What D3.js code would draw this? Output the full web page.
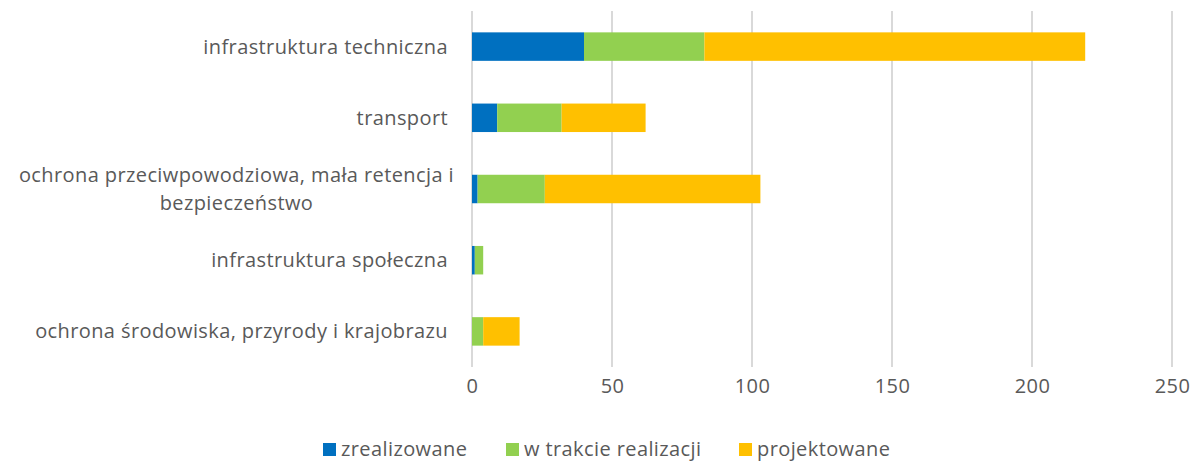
<!DOCTYPE html>
<html>
<head>
<meta charset="utf-8">
<script src="https://cdn.jsdelivr.net/npm/d3@7"></script>
<style>
  body { margin: 0; background: #fff; }
  text { font-family: "Open Sans", sans-serif; fill: #595959; letter-spacing: 0.4px; }
</style>
</head>
<body>
<script>
// data
var categories = [
	"infrastruktura techniczna",
	"transport",
	"ochrona przeciwpowodziowa, mała retencja i|bezpieczeństwo",
	"infrastruktura społeczna",
	"ochrona środowiska, przyrody i krajobrazu"
];
var zrealizowane = [40, 9, 2, 1, 0];
var wTrakcie = [43, 23, 24, 3, 4];
var projektowane = [136, 30, 77, 0, 13];
var seriesNames = ["zrealizowane", "w trakcie realizacji", "projektowane"];
var seriesColors = ["#0070C0", "#92D050", "#FFC000"];
var xTicks = [0, 50, 100, 150, 200, 250];

var width = 1199, height = 461;

var svg = d3.select("body")
	.append("svg")
		.attr("width", width)
		.attr("height", height);

var x = d3.scaleLinear().domain([0, 250]).range([472, 1172]);
var y = d3.scaleBand().domain(categories).range([11, 367]).paddingInner(0.6).paddingOuter(0.3);

// gridlines
svg.append("g")
	.selectAll("line")
	.data(xTicks)
	.enter()
	.append("line")
		.attr("x1", function (d) { return x(d); })
		.attr("x2", function (d) { return x(d); })
		.attr("y1", 11)
		.attr("y2", 367)
		.style("stroke", "#d9d9d9")
		.style("stroke-width", 2);

// stack the series
var rows = categories.map(function (c, i) {
	return { cat: c, a: zrealizowane[i], b: wTrakcie[i], c: projektowane[i] };
});
var stacked = d3.stack().keys(["a", "b", "c"])(rows);

svg.append("g")
	.selectAll("g")
	.data(stacked)
	.enter()
	.append("g")
		.style("fill", function (d, i) { return seriesColors[i]; })
	.selectAll("rect")
	.data(function (d) { return d; })
	.enter()
	.append("rect")
		.attr("x", function (d) { return x(d[0]); })
		.attr("width", function (d) { return x(d[1]) - x(d[0]); })
		.attr("y", function (d) { return y(d.data.cat); })
		.attr("height", y.bandwidth());

// x axis labels
var xAxis = svg.append("g")
	.attr("transform", "translate(0,367)")
	.call(d3.axisBottom(x).tickValues(xTicks).tickSize(0).tickPadding(12));
xAxis.select(".domain").remove();
xAxis.selectAll("text")
	.style("font-size", "20px")
	.style("font-family", "'Open Sans', sans-serif")
	.style("fill", "#595959");

// category labels (wrapped ones centered like excel)
var labels = svg.append("g")
	.selectAll("text")
	.data(categories)
	.enter()
	.append("text")
		.style("font-size", "20px")
		.attr("y", function (d) { return y(d) + y.bandwidth() / 2; });

labels.each(function (d) {
	var lines = d.split("|");
	var t = d3.select(this);
	if (lines.length == 1) {
		t.attr("x", 448).attr("text-anchor", "end").attr("dy", "0.35em").text(d);
		return;
	}
	lines.forEach(function (l, i) {
		t.append("tspan")
			.attr("dy", i == 0 ? (0.35 - 0.7) + "em" : "1.4em")
			.text(l);
	});
	var w = d3.max(t.selectAll("tspan").nodes(), function (n) { return n.getComputedTextLength(); });
	t.attr("text-anchor", "middle");
	t.selectAll("tspan").attr("x", 454 - w / 2);
});

// legend
var legendX = [323, 506, 739];
var legend = svg.append("g")
	.selectAll("g")
	.data(seriesNames)
	.enter()
	.append("g")
		.attr("transform", function (d, i) { return "translate(" + legendX[i] + ",443)"; });

legend.append("rect")
	.attr("width", 13)
	.attr("height", 13)
	.style("fill", function (d, i) { return seriesColors[i]; });

legend.append("text")
	.attr("x", 18)
	.attr("y", 6)
	.attr("dy", "0.35em")
	.style("font-size", "20px")
	.text(function (d) { return d; });
</script>
</body>
</html>
